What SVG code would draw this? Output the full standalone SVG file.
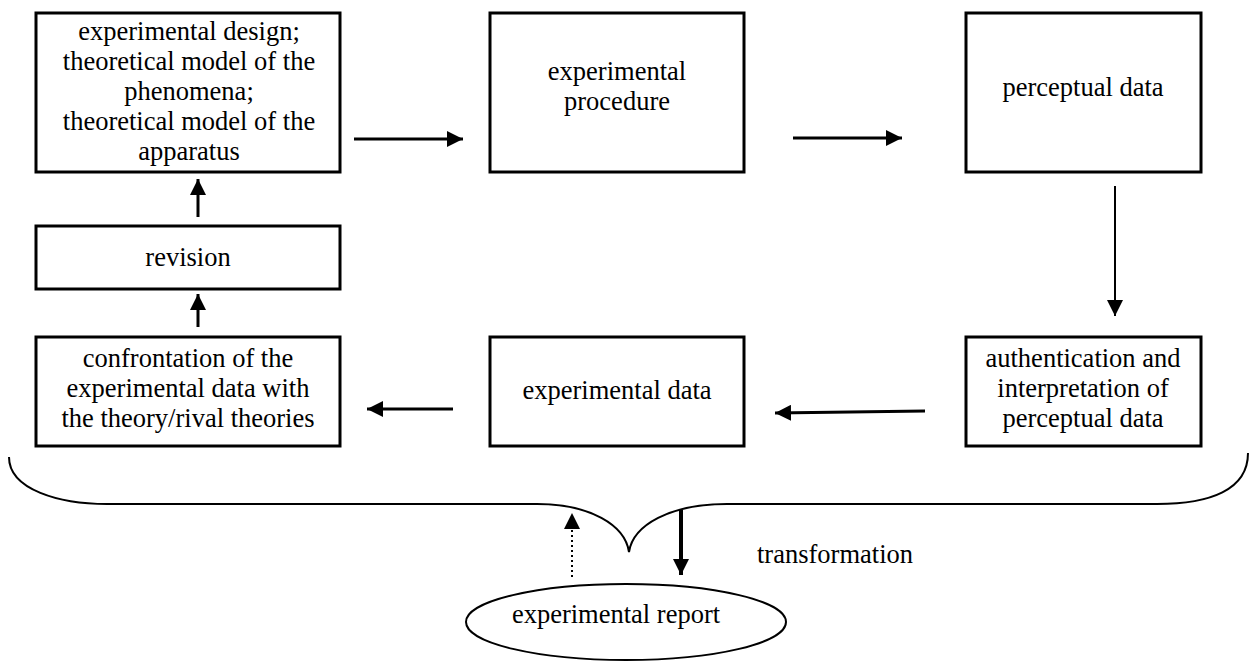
<svg xmlns="http://www.w3.org/2000/svg" width="1250" height="661" viewBox="0 0 1250 661">
<style>
.box{fill:#fff;stroke:#000;stroke-width:3}
.t{font-family:"Liberation Serif","Times New Roman",serif;font-size:26.5px;fill:#000;text-anchor:middle}
.c{stroke:#000;fill:none}
</style>
<defs>
<marker id="ah" viewBox="0 0 10 10" refX="10" refY="5" markerWidth="16" markerHeight="16" markerUnits="userSpaceOnUse" orient="auto">
<path d="M0,0 L10,5 L0,10 Z" fill="#000"/>
</marker>
</defs>
<rect width="1250" height="661" fill="#fff"/>
<g id="n1"><rect class="box" x="36" y="13" width="304" height="159"/>
<text class="t" x="189" y="40">experimental design;</text>
<text class="t" x="189" y="70">theoretical model of the</text>
<text class="t" x="189" y="100">phenomena;</text>
<text class="t" x="189" y="130">theoretical model of the</text>
<text class="t" x="189" y="160">apparatus</text></g>
<g id="n2"><rect class="box" x="490" y="13" width="254" height="159"/>
<text class="t" x="617" y="80">experimental</text>
<text class="t" x="617" y="110">procedure</text></g>
<g id="n3"><rect class="box" x="966" y="13" width="235" height="159"/>
<text class="t" x="1083" y="96">perceptual data</text></g>
<g id="n4"><rect class="box" x="36" y="226" width="304" height="63"/>
<text class="t" x="188" y="266">revision</text></g>
<g id="n5"><rect class="box" x="36" y="337" width="304" height="109"/>
<text class="t" x="188" y="367">confrontation of the</text>
<text class="t" x="188" y="397">experimental data with</text>
<text class="t" x="188" y="427">the theory/rival theories</text></g>
<g id="n6"><rect class="box" x="490" y="337" width="254" height="109"/>
<text class="t" x="617" y="399">experimental data</text></g>
<g id="n7"><rect class="box" x="966" y="337" width="235" height="109"/>
<text class="t" x="1083" y="367">authentication and</text>
<text class="t" x="1083" y="397">interpretation of</text>
<text class="t" x="1083" y="427">perceptual data</text></g>
<g id="n8"><ellipse cx="626" cy="622" rx="160" ry="38" fill="#fff" stroke="#000" stroke-width="2"/>
<text class="t" x="616" y="623">experimental report</text></g>
<g id="brace"><path class="c" stroke-width="2" d="M9,457 C9,490 60,504 107,504 L537,504 C590,504 625,525 629,552 C633,525 670,504 727,504 L1157,504 C1210,504 1248,490 1248,453"/></g>
<g id="connectors">
<line class="c" stroke-width="3" x1="354" y1="139" x2="463" y2="139" marker-end="url(#ah)"/>
<line class="c" stroke-width="3" x1="793" y1="138" x2="902" y2="138" marker-end="url(#ah)"/>
<line class="c" stroke-width="2" x1="1115" y1="186" x2="1115" y2="316" marker-end="url(#ah)"/>
<line class="c" stroke-width="3" x1="925" y1="411" x2="775" y2="413" marker-end="url(#ah)"/>
<line class="c" stroke-width="3" x1="453" y1="409" x2="367" y2="409" marker-end="url(#ah)"/>
<line class="c" stroke-width="3" x1="198" y1="327" x2="198" y2="294" marker-end="url(#ah)"/>
<line class="c" stroke-width="3" x1="198" y1="217" x2="198" y2="179" marker-end="url(#ah)"/>
<line class="c" stroke-width="2" stroke-dasharray="2,3" x1="572" y1="577" x2="572" y2="513" marker-end="url(#ah)"/>
<line class="c" stroke-width="4" x1="681" y1="510" x2="681" y2="575" marker-end="url(#ah)"/>
</g>
<text class="t" x="757" y="563" style="text-anchor:start">transformation</text>
</svg>
